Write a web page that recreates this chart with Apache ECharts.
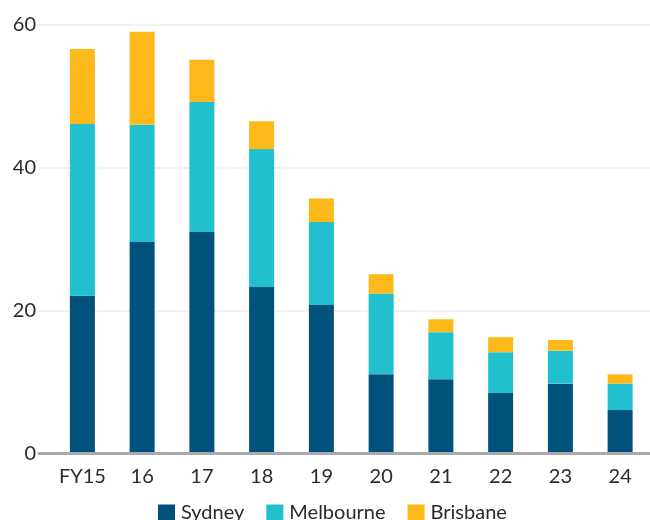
<!DOCTYPE html>
<html>
<head>
<meta charset="utf-8">
<script src="https://cdn.jsdelivr.net/npm/echarts@6/dist/echarts.min.js"></script>
<style>
  html, body { margin: 0; padding: 0; background: #ffffff; }
  #chart { width: 650px; height: 520px; }
</style>
</head>
<body>
<div id="chart"></div>
<script>
// Financial years on the category axis
var categories = ['FY15', '16', '17', '18', '19', '20', '21', '22', '23', '24'];

// Stacked segments per city
var sydney    = [22.1, 29.6, 31.0, 23.3, 20.8, 11.1, 10.4, 8.5, 9.8, 6.1];
var melbourne = [24.0, 16.4, 18.2, 19.3, 11.6, 11.3, 6.6, 5.7, 4.6, 3.7];
var brisbane  = [10.5, 13.0, 5.9, 3.9, 3.3, 2.7, 1.8, 2.1, 1.5, 1.3];

// Value-axis ticks
var yTicks = [0, 20, 40, 60];

var FONT = 'Lato, "Noto Sans", sans-serif';
var TEXT = '#2b2b2b';
var FS = 20;

var chart = echarts.init(document.getElementById('chart'), null, { renderer: 'canvas' });

function bar(name, data, color) {
  return {
    name: name,
    type: 'bar',
    stack: 'total',
    xAxisIndex: 1,
    yAxisIndex: 1,
    barWidth: 25,
    itemStyle: { color: color },
    emphasis: { disabled: true },
    data: data
  };
}

chart.setOption({
  animation: false,
  textStyle: { fontFamily: FONT },
  grid: [
    // frame for the gridlines and baseline
    { left: 39, right: 0, top: 24.7, bottom: 66.3, containLabel: false },
    // frame for the bars
    { left: 52.5, width: 600, top: 24.7, bottom: 66.3, containLabel: false }
  ],
  legend: {
    left: 158,
    top: 503,
    padding: 0,
    itemWidth: 17,
    itemHeight: 17,
    itemGap: 22,
    icon: 'rect',
    selectedMode: false,
    textStyle: { fontFamily: FONT, fontSize: FS, color: TEXT, padding: [0, 0, 0, 1] },
    data: ['Sydney', 'Melbourne', 'Brisbane']
  },
  xAxis: [
    {
      type: 'category',
      gridIndex: 0,
      data: categories,
      axisLine: { show: true, lineStyle: { color: '#a7a9ad', width: 3 } },
      axisTick: { show: false },
      axisLabel: { show: false },
      splitLine: { show: false },
      z: 5
    },
    {
      type: 'category',
      gridIndex: 1,
      data: categories,
      axisLine: { show: false },
      axisTick: { show: false },
      axisLabel: { interval: 0, hideOverlap: false, fontFamily: FONT, fontSize: FS, color: TEXT, margin: 13 },
      splitLine: { show: false }
    }
  ],
  yAxis: [
    {
      type: 'value',
      gridIndex: 0,
      min: yTicks[0],
      max: yTicks[yTicks.length - 1],
      interval: yTicks[1] - yTicks[0],
      axisLine: { show: false },
      axisTick: { show: false },
      axisLabel: { fontFamily: FONT, fontSize: FS, color: TEXT, margin: 3 },
      splitLine: { show: true, lineStyle: { color: '#f1f1f1', width: 2 } }
    },
    {
      type: 'value',
      gridIndex: 1,
      min: yTicks[0],
      max: yTicks[yTicks.length - 1],
      interval: yTicks[1] - yTicks[0],
      show: false,
      splitLine: { show: false }
    }
  ],
  series: [
    bar('Sydney', sydney, '#00527c'),
    bar('Melbourne', melbourne, '#22bfcf'),
    bar('Brisbane', brisbane, '#fdb91a')
  ]
});
</script>
</body>
</html>
